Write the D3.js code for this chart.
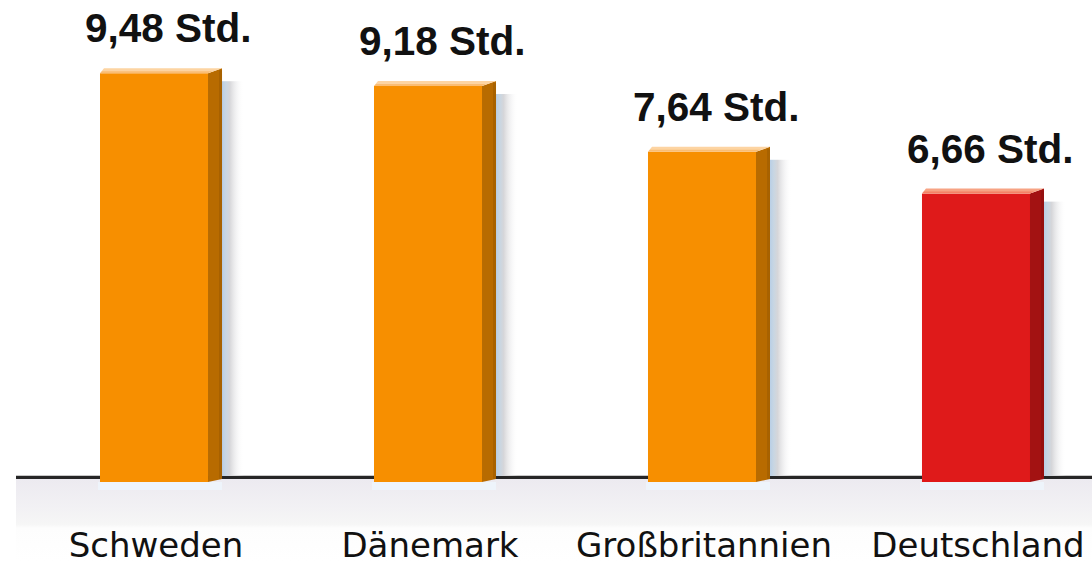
<!DOCTYPE html>
<html><head><meta charset="utf-8">
<script src="https://cdn.jsdelivr.net/npm/d3@7"></script>
<style>html,body{margin:0;padding:0;background:#fff;}svg{display:block;}</style>
</head><body>
<svg id="c" width="1092" height="561"></svg>
<script>
const categories = ["Schweden", "Dänemark", "Großbritannien", "Deutschland"];
const values = [9.48, 9.18, 7.64, 6.66];
const valueLabels = ["9,48 Std.", "9,18 Std.", "7,64 Std.", "6,66 Std."];
const highlight = [false, false, false, true];

const W = 1092, H = 561;
const svg = d3.select("#c");
const baseY = 478;
const x = d3.scaleBand().domain(categories).range([24, 1120]).paddingInner(0.5547).paddingOuter(0.2774);
const y = d3.scaleLinear().domain([0, 10]).range([baseY, baseY - 427]);
const side = 14, dy = 5;

const defs = svg.append("defs");
const g1 = defs.append("linearGradient").attr("id","ground").attr("x1",0).attr("y1",0).attr("x2",0).attr("y2",1);
g1.append("stop").attr("offset","0%").attr("stop-color","#eceaf0");
g1.append("stop").attr("offset","35%").attr("stop-color","#f2f1f4");
g1.append("stop").attr("offset","55%").attr("stop-color","#f6f6f6");
g1.append("stop").attr("offset","60%").attr("stop-color","#fdfdfd");
g1.append("stop").attr("offset","100%").attr("stop-color","#ffffff");
const g2 = defs.append("linearGradient").attr("id","shadow").attr("x1",0).attr("y1",0).attr("x2",1).attr("y2",0);
g2.append("stop").attr("offset","0%").attr("stop-color","#b9cfe6");
g2.append("stop").attr("offset","18%").attr("stop-color","#c9d6e2");
g2.append("stop").attr("offset","35%").attr("stop-color","#d6d6d9");
g2.append("stop").attr("offset","100%").attr("stop-color","#ffffff").attr("stop-opacity",0);

// ground
svg.append("rect").attr("x",16).attr("y",baseY+1).attr("width",W-16).attr("height",H-baseY-1).attr("fill","url(#ground)");
// baseline
svg.append("rect").attr("x",16).attr("y",baseY-3).attr("width",W-16).attr("height",1).attr("fill","#c8c8c8");
svg.append("rect").attr("x",16).attr("y",baseY-2).attr("width",W-16).attr("height",3).attr("fill","#262626");

const bars = svg.append("g").selectAll("g").data(categories).join("g");
bars.each(function(c, i){
  const g = d3.select(this);
  const x0 = x(c), fw = x.bandwidth() - side, yt = y(values[i]);
  const col = highlight[i] ? {front:"#df1a1a", side:"#a31212", top:"#f7a384", top2:"#f46a50"} : {front:"#f78f00", side:"#b86b00", top:"#fdd4a2", top2:"#f9ad55"};
  // shadow
  g.append("rect").attr("x", x0+fw+side).attr("y", yt+8).attr("width", 22).attr("height", baseY - yt - 10).attr("fill","url(#shadow)");
  // reflection
  g.append("rect").attr("x", x0-2).attr("y", baseY+4).attr("width", fw+side+2).attr("height", 8).attr("fill","#eef4fb");
  // front
  g.append("rect").attr("x", x0).attr("y", yt).attr("width", fw).attr("height", baseY + 4 - yt).attr("fill", col.front);
  // side
  g.append("path").attr("d", `M${x0+fw},${yt} L${x0+fw+side},${yt-dy} L${x0+fw+side},${baseY+1} L${x0+fw},${baseY+4} Z`).attr("fill", col.side);
  g.append("rect").attr("x", x0+fw+side-3).attr("y", yt-dy+2).attr("width", 3).attr("height", baseY - yt + dy - 1).attr("fill", d3.color(col.side).darker(0.25));
  // top
  g.append("path").attr("d", `M${x0},${yt} L${x0+4},${yt-dy} L${x0+fw+side},${yt-dy} L${x0+fw},${yt} Z`).attr("fill", col.top);
  g.append("path").attr("d", `M${x0},${yt} L${x0+2},${yt-2} L${x0+fw+4},${yt-2} L${x0+fw},${yt} Z`).attr("fill", col.top2).attr("opacity",0.6);
  // value label
  g.append("text").attr("x", x0 - 15).attr("y", yt - 31).attr("text-anchor","start")
    .attr("font-family","'Liberation Sans', Arial, sans-serif").attr("font-weight","bold").attr("font-size", 40.5)
    .attr("fill","#111").text(valueLabels[i]);
  // category label
  g.append("text").attr("x", x0 + fw/2 + 2).attr("y", 557).attr("text-anchor","middle")
    .attr("font-family","'DejaVu Sans', sans-serif").attr("font-size", 34)
    .attr("fill","#111").text(c);
});
</script>
</body></html>
